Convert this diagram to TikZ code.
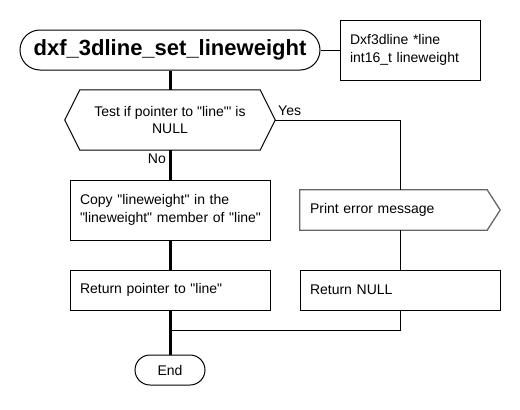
\documentclass[tikz,border=0pt]{standalone}
\usepackage{fontspec}
\setmainfont{Liberation Sans}
\usetikzlibrary{calc}
\newcommand\dq{\textquotedbl}
\tikzset{
  txt/.style={font=\fontsize{14}{17.5}\selectfont},
  box/.style={draw, line width=1pt, txt, inner xsep=10pt, text width=180pt, align=left, minimum width=200pt},
  thin/.style={line width=1pt},
  thick/.style={line width=3pt},
  every node/.style={inner sep=0pt}
}
\begin{document}
\begin{tikzpicture}[x=1pt,y=-1pt]
\useasboundingbox (0,0) rectangle (520,410);
\node[draw, line width=1pt, rounded corners=20pt, minimum width=300pt, minimum height=40pt,
      font=\fontsize{22}{26}\selectfont\bfseries] (title) at (170,50) {dxf\_3dline\_set\_lineweight};
\node[draw, line width=1pt, txt, inner xsep=10pt, text width=120pt, align=left,
      minimum width=140pt, minimum height=60pt] (params) at (410,50) {Dxf3dline *line\\int16\_t lineweight};
\node[txt, align=center, minimum width=210pt, minimum height=60pt] (dec) at (170,120)
  {Test if pointer to \dq line\dq\textquotesingle{} is\\NULL};
\draw[thin] (dec.west) -- ($(dec.north west)+(15,0)$) -- ($(dec.north east)+(-15,0)$) -- (dec.east)
  -- ($(dec.south east)+(-15,0)$) -- ($(dec.south west)+(15,0)$) -- cycle;
\node[box, minimum height=60pt] (copy) at (170,210) {\mbox{Copy \dq lineweight\dq{} in the}\\\mbox{\dq lineweight\dq{} member of \dq line\dq}};
\node[box, minimum height=40pt] (retp) at (170,290) {Return pointer to \dq line\dq};
\node[txt, inner xsep=10pt, text width=180pt, align=left, minimum width=200pt, minimum height=40pt] (perr) at (400,210) {Print error message};
\draw[line width=1.3pt, draw=black!60] (perr.north west) -- ($(perr.north east)+(-13,0)$) -- (perr.east)
  -- ($(perr.south east)+(-13,0)$) -- (perr.south west) -- cycle;
\node[box, minimum height=40pt] (retn) at (400,290) {Return NULL};
\node[draw, line width=1pt, rounded corners=15pt, txt, minimum width=70pt, minimum height=30pt] (end) at (170,370) {End};
\coordinate (j) at (170,330);
\draw[thin] (title.east) -- (params.west);
\draw[thick] (title.south) -- (dec.north);
\draw[thin] (dec.east) -| (perr.north);
\draw[thick] (dec.south) -- (copy.north);
\draw[thick] (copy.south) -- (retp.north);
\draw[thin] (perr.south) -- (retn.north);
\draw[thick] (retp.south) -- (end.north);
\draw[thin] (retn.south) |- (j);
\node[txt, anchor=west] (yes) at (278,111) {Yes};
\node[txt, anchor=east] (no) at (166,159) {No};
\end{tikzpicture}
\end{document}
